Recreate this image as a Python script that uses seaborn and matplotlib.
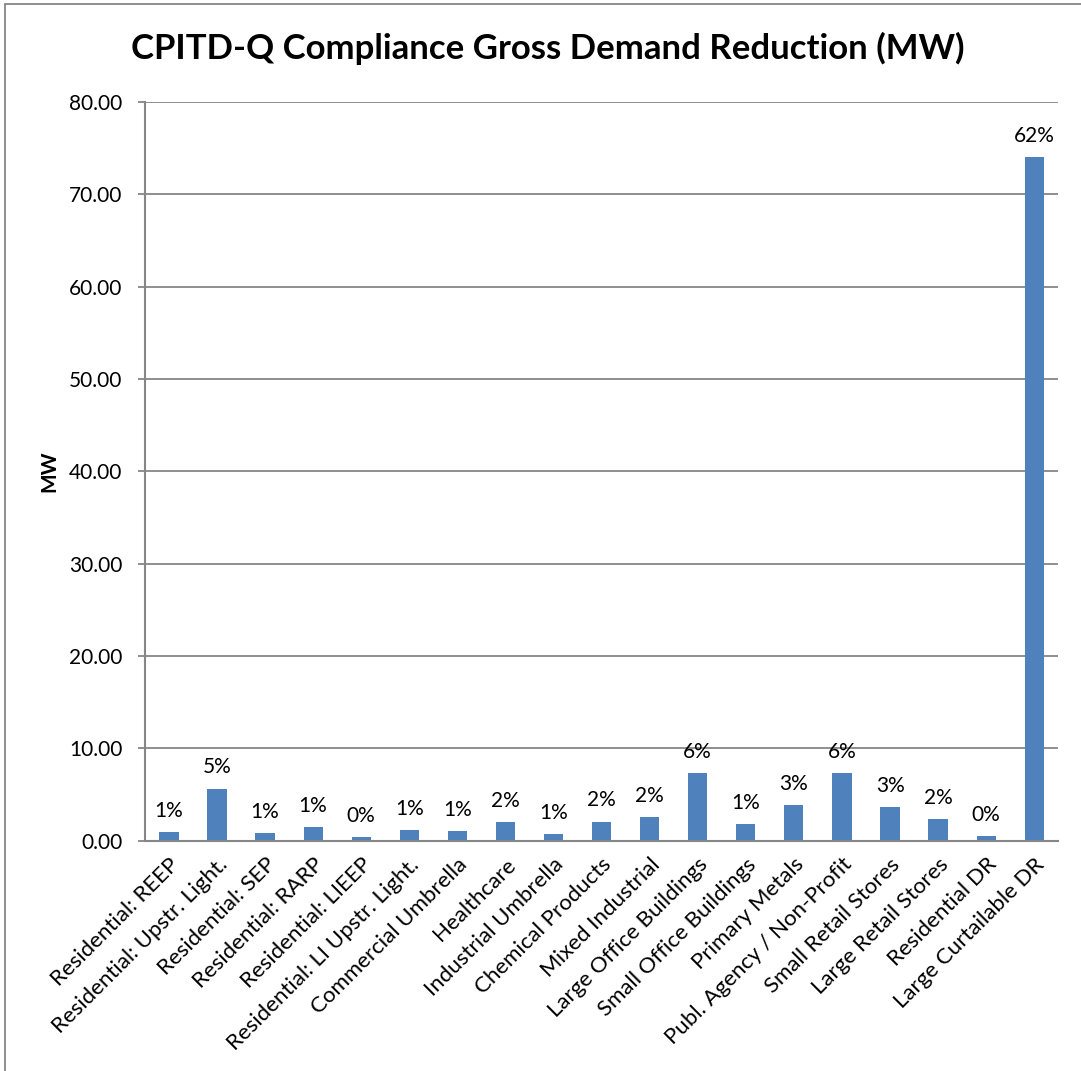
import matplotlib
matplotlib.use("Agg")
import matplotlib.pyplot as plt
import seaborn as sns
import pandas as pd
from matplotlib.lines import Line2D

# Program categories and compliance gross demand reduction (MW)
categories = [
    "Residential: REEP",
    "Residential: Upstr. Light.",
    "Residential: SEP",
    "Residential: RARP",
    "Residential: LIEEP",
    "Residential: LI Upstr. Light.",
    "Commercial Umbrella",
    "Healthcare",
    "Industrial Umbrella",
    "Chemical Products",
    "Mixed Industrial",
    "Large Office Buildings",
    "Small Office Buildings",
    "Primary Metals",
    "Publ. Agency / Non-Profit",
    "Small Retail Stores",
    "Large Retail Stores",
    "Residential DR",
    "Large Curtailable DR",
]
mw_values = [0.94, 5.63, 0.83, 1.48, 0.40, 1.16, 0.98, 1.99, 0.73, 2.06,
             2.54, 7.33, 1.75, 3.84, 7.30, 3.65, 2.28, 0.48, 74.00]
y_ticks = [0, 10, 20, 30, 40, 50, 60, 70, 80]

df = pd.DataFrame({"program": categories, "mw": mw_values})
total = df["mw"].sum()
share_labels = [f"{v / total * 100:.0f}%" for v in df["mw"]]

sns.set_theme(style="white")
plt.rcParams["font.family"] = ["Lato", "DejaVu Sans"]

fig = plt.figure(figsize=(10.81, 10.71), dpi=100)
ax = fig.add_axes([0.134, 0.2152, 0.845, 0.6896])

sns.barplot(data=df, x="program", y="mw", color="#4F81BD", saturation=1,
            width=0.4, ax=ax, edgecolor="none")

ax.set_xlim(-0.5, len(categories) - 0.5)
ax.set_ylim(0, 80)
ax.set_yticks(y_ticks)
ax.set_yticklabels([f"{t:.2f}" for t in y_ticks])
ax.yaxis.grid(True, color="#868686", linewidth=1.3)
ax.set_axisbelow(True)

for side in ["top", "right"]:
    ax.spines[side].set_visible(False)
for side in ["left", "bottom"]:
    ax.spines[side].set_color("#868686")
    ax.spines[side].set_linewidth(1.5)

ax.tick_params(axis="y", which="major", left=True, length=5, width=1.3,
               color="#868686", pad=11, labelsize=15, labelcolor="black")
ax.tick_params(axis="x", bottom=False, pad=4, labelsize=16, labelcolor="black")
ax.set_xticks(range(len(categories)))
ax.set_xticklabels(categories, rotation=45, ha="right", rotation_mode="anchor")

ax.set_xlabel("")
ax.set_ylabel("MW", fontsize=15, fontweight="bold", labelpad=7, color="black")

ax.bar_label(ax.containers[0], labels=share_labels, padding=8,
             fontsize=15, color="black")

fig.text(0.507, 0.955, "CPITD-Q Compliance Gross Demand Reduction (MW)",
         ha="center", va="center", fontsize=25, fontweight="bold", color="black")

# Chart frame on the outer figure edge
fig.add_artist(Line2D([0.005, 0.005], [0.0, 0.996], transform=fig.transFigure,
                      color="#868686", linewidth=1.3))
fig.add_artist(Line2D([0.005, 1.0], [0.996, 0.996], transform=fig.transFigure,
                      color="#868686", linewidth=1.3))

fig.savefig("out.png", dpi=100, facecolor="white")
